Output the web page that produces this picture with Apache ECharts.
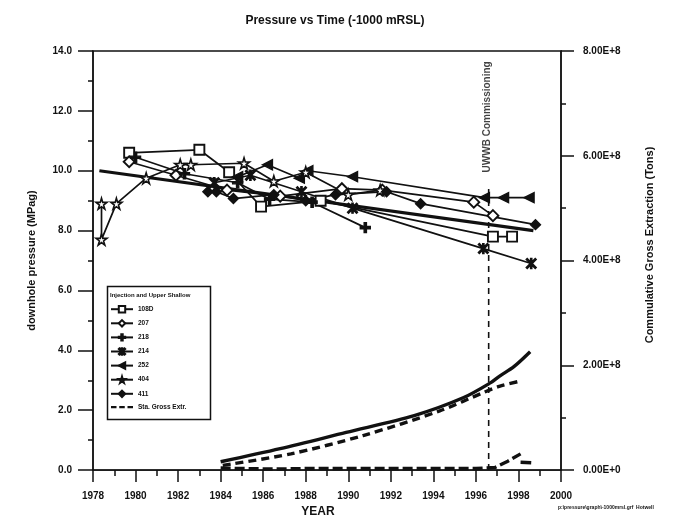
<!DOCTYPE html>
<html><head><meta charset="utf-8">
<script src="https://cdn.jsdelivr.net/npm/echarts@6/dist/echarts.min.js"></script>
<style>html,body{margin:0;padding:0;background:#fff}#c{width:676px;height:523px}</style>
</head><body><div id="c"></div>
<script>
// ---- data ----
const xTicks = [1978,1980,1982,1984,1986,1988,1990,1992,1994,1996,1998,2000];
const leftTicks = [0,2,4,6,8,10,12,14];
const rightTicks = [0,2e8,4e8,6e8,8e8];

const s108D = [[1979.7,10.6],[1983.0,10.7],[1984.4,9.95],[1985.9,8.8],[1988.7,9.0],[1996.8,7.8],[1997.7,7.8]];
const s207  = [[1979.7,10.3],[1981.9,9.85],[1984.3,9.35],[1986.8,9.15],[1989.7,9.4],[1991.6,9.35],[1995.9,8.95],[1996.8,8.5]];
const s218  = [[1980.0,10.45],[1982.3,9.9],[1984.8,9.6],[1986.3,9.05],[1988.3,8.95],[1990.8,8.1]];
const s214  = [[1983.7,9.6],[1985.4,9.85],[1987.8,9.3],[1990.2,8.75],[1996.35,7.4],[1998.6,6.9]];
const s252  = [[1984.8,9.8],[1986.2,10.2],[1987.7,9.75],[1988.1,10.0],[1990.2,9.8],[1996.4,9.1],[1997.3,9.1],[1998.5,9.1]];
const s404  = [[1978.4,8.9],[1978.4,7.7],[1979.1,8.9],[1980.5,9.75],[1982.1,10.2],[1982.6,10.2],[1985.1,10.25],[1986.5,9.65],[1988.0,9.95],[1990.0,9.2],[1991.5,9.35]];
const s411  = [[1983.4,9.3],[1983.8,9.3],[1984.6,9.07],[1986.5,9.2],[1988.0,9.0],[1989.4,9.2],[1991.8,9.3],[1993.4,8.9],[1998.8,8.2]];
const trend = [[1978.3,10.0],[1998.7,8.0]];

const cumTotal = [[1984.0,0.16e8],[1986.8,0.41e8],[1989.9,0.72e8],[1993.1,1.04e8],[1995.4,1.38e8],[1996.7,1.67e8],[1997.1,1.79e8],[1997.8,1.98e8],[1998.55,2.26e8]];
const staGross = [[1984.1,0.09e8],[1987.3,0.31e8],[1990.7,0.66e8],[1994.3,1.13e8],[1996.35,1.48e8],[1997.1,1.60e8],[1998.1,1.70e8]];
const lowExtr  = [[1984.0,0.04e8],[1985.0,0.03e8],[1986.5,0.02e8],[1988.0,0.03e8],[1990.0,0.03e8],[1992.0,0.03e8],[1994.0,0.03e8],[1996.0,0.03e8],[1996.9,0.05e8],[1997.5,0.17e8],[1998.1,0.31e8]];
const lowExtr2 = [[1998.1,0.15e8],[1998.6,0.14e8]];

const commissionYear = 1996.6;
const commissionLine = [[commissionYear,0],[commissionYear,9.55]];
const commissionLabelPos = [[1996.55,11.8]];

const legendNames = ['108D','207','218','214','252','404','411','Sta. Gross Extr.'];

// ---- chart ----
const FONT = '"Liberation Sans", Arial, sans-serif';
const BLK = '#111';
const LW = 1.7;
const starPath = 'path://M50,0L61,35H98L68,57L79,91L50,70L21,91L32,57L2,35H39Z';
const plusPath = 'path://M3.1,0H4.9V3.1H8V4.9H4.9V8H3.1V4.9H0V3.1H3.1Z';
const astPath  = 'path://M0.8,0L4,3.2L7.2,0L8,0.8L4.8,4L8,7.2L7.2,8L4,4.8L0.8,8L0,7.2L3.2,4L0,0.8ZM3.5,0H4.5V8H3.5Z';
const dashIcon = 'path://M0,3H6V5.4H0ZM9,3H15V5.4H9ZM18,3H24V5.4H18Z';

function pSeries(name, data, symbol, opts){
  return Object.assign({
    name, type:'line', data, yAxisIndex:0, symbol, symbolSize:9,
    lineStyle:{color:BLK,width:LW}, itemStyle:{color:BLK,borderColor:BLK,borderWidth:1.4},
    emphasis:{disabled:true}, animation:false, z:3
  }, opts||{});
}
const hollow = {color:'#fff',borderColor:BLK,borderWidth:1.9};

const legendData = legendNames.map(n => n==='Sta. Gross Extr.' ? {name:n, icon:dashIcon, itemStyle:{color:BLK}} : {name:n});

const chart = echarts.init(document.getElementById('c'));
chart.setOption({
  backgroundColor:'#fff',
  animation:false,
  title:{text:'Pressure vs Time (-1000 mRSL)',left:330,textAlign:'center',top:10,
    textStyle:{fontFamily:FONT,fontSize:12,fontWeight:'bold',color:BLK}},
  grid:{left:93,right:115,top:51,bottom:48,show:true,borderColor:BLK,borderWidth:1.4,backgroundColor:'transparent'},
  legend:{
    data:legendData, orient:'vertical', left:110, top:305, itemWidth:22, itemHeight:8, itemGap:5.7,
    textStyle:{fontFamily:FONT,fontSize:6.5,fontWeight:'bold',color:BLK}, selectedMode:false, padding:0
  },
  xAxis:{
    type:'value', min:1978, max:2000, interval:2,
    name:'YEAR', nameLocation:'middle', nameGap:35,
    nameTextStyle:{fontFamily:FONT,fontSize:12,fontWeight:'bold',color:BLK,padding:[0,18,0,0]},
    axisLine:{lineStyle:{color:BLK,width:1.5}},
    axisTick:{show:true,inside:false,length:12,lineStyle:{color:BLK,width:1.5}},
    minorTick:{show:true,splitNumber:2,length:6,lineStyle:{color:BLK,width:1.5}},
    axisLabel:{margin:21,fontFamily:FONT,fontSize:10,fontWeight:'bold',color:BLK,
      formatter:v=>xTicks.includes(v)?String(v):''},
    splitLine:{show:false}
  },
  yAxis:[{
    type:'value', min:0, max:14, interval:2, position:'left',
    name:'downhole pressure (MPag)', nameLocation:'middle', nameGap:56, nameRotate:90,
    nameTextStyle:{fontFamily:FONT,fontSize:11,fontWeight:'bold',color:BLK},
    axisLine:{show:true,lineStyle:{color:BLK,width:1.5}},
    axisTick:{show:true,inside:false,length:15,lineStyle:{color:BLK,width:1.5}},
    minorTick:{show:true,splitNumber:2,length:5,lineStyle:{color:BLK,width:1.5}},
    axisLabel:{margin:21,fontFamily:FONT,fontSize:10,fontWeight:'bold',color:BLK,
      formatter:v=>leftTicks.includes(v)?v.toFixed(1):''},
    splitLine:{show:false}
  },{
    type:'value', min:0, max:8e8, interval:2e8, position:'right',
    axisLine:{show:true,lineStyle:{color:BLK,width:1.5}},
    axisTick:{show:true,inside:false,length:13,lineStyle:{color:BLK,width:1.5}},
    minorTick:{show:true,splitNumber:2,length:5,lineStyle:{color:BLK,width:1.5}},
    axisLabel:{margin:22,fontFamily:FONT,fontSize:10,fontWeight:'bold',color:BLK,
      formatter:v=>rightTicks.includes(v)?(v===0?'0.00E+0':(v/1e8).toFixed(2)+'E+8'):''},
    splitLine:{show:false}
  }],
  graphic:[
    {type:'rect',left:105,top:284,shape:{width:103,height:133},style:{fill:'none',stroke:BLK,lineWidth:1.5},z:1},
    {type:'text',left:110,top:292,style:{text:'Injection and Upper Shallow',font:'bold 6px '+FONT,fill:BLK}},
    {type:'text',x:650,y:245,rotation:Math.PI/2,
      style:{text:'Commulative Gross Extraction (Tons)',font:'bold 11px '+FONT,fill:BLK,align:'center',verticalAlign:'middle'}},
    {type:'text',left:558,top:505,style:{text:'p:\\pressure\\graph\\-1000mrsl.grf  Hotwell',font:'bold 5px '+FONT,fill:BLK}}
  ],
  series:[
    pSeries('108D', s108D, 'rect', {itemStyle:hollow, symbolSize:10}),
    pSeries('207',  s207,  'diamond', {itemStyle:hollow, symbolSize:11}),
    pSeries('218',  s218,  plusPath, {symbolSize:10}),
    pSeries('214',  s214,  astPath, {symbolSize:10}),
    pSeries('252',  s252,  'triangle', {symbolRotate:90, symbolSize:10}),
    pSeries('404',  s404,  starPath, {itemStyle:{color:'#fff',borderColor:BLK,borderWidth:1.6}, symbolSize:11}),
    pSeries('411',  s411,  'diamond', {symbolSize:10}),
    {name:'Trend', type:'line', data:trend, yAxisIndex:0, symbol:'none', lineStyle:{color:BLK,width:3.2}, z:2},
    {name:'Cum. Gross Extr.', type:'line', data:cumTotal, yAxisIndex:1, symbol:'none', smooth:0.3,
      lineStyle:{color:BLK,width:3.4}},
    {name:'Sta. Gross Extr.', type:'line', data:staGross, yAxisIndex:1, symbol:'none', smooth:0.3,
      lineStyle:{color:BLK,width:3.4,type:[8,5]}, itemStyle:{color:BLK}},
    {name:'Low Extr.', type:'line', data:lowExtr, yAxisIndex:1, symbol:'none',
      lineStyle:{color:BLK,width:3.4,type:[10,4]}},
    {name:'Low Extr. 2', type:'line', data:lowExtr2, yAxisIndex:1, symbol:'none',
      lineStyle:{color:BLK,width:3.4}},
    {name:'Commissioning', type:'line', data:commissionLine, yAxisIndex:0, symbol:'none',
      lineStyle:{color:BLK,width:1.6,type:[6,5]}},
    {name:'CommLabel', type:'scatter', data:commissionLabelPos, yAxisIndex:0, symbolSize:0,
      label:{show:true,position:'inside',rotate:90,formatter:'UWWB Commissioning',
        fontFamily:FONT,fontSize:10,fontWeight:'bold',color:BLK}}
  ]
});
</script></body></html>
